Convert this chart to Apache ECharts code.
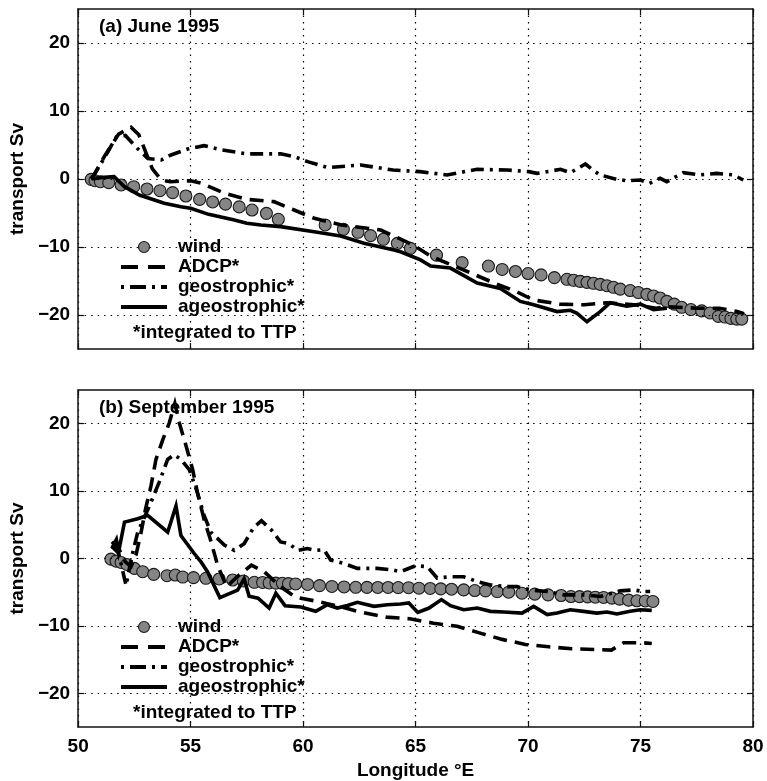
<!DOCTYPE html>
<html>
<head>
<meta charset="utf-8">
<script src="https://cdn.jsdelivr.net/npm/echarts@6/dist/echarts.min.js"></script>
<style>
  html, body { margin: 0; padding: 0; background: #fff; }
  #chart { width: 767px; height: 781px; }
</style>
</head>
<body>
<div id="chart"></div>
<script>
// Volume transport (Sv) along the section, by longitude (°E)

const panelTitles = ['(a) June 1995', '(b) September 1995'];
const seriesNames = ['wind', 'ADCP*', 'geostrophic*', 'ageostrophic*'];
const noteText = '*integrated to TTP';
const xTicks = [50, 55, 60, 65, 70, 75, 80];
const yTicks = [-20, -10, 0, 10, 20];

// ---- June 1995 ----
const windJune = [
  [50.58,-0.05],[50.75,-0.25],[50.99,-0.4],[51.36,-0.54],[51.91,-0.88],[52.47,-1.13],
  [53.06,-1.47],[53.64,-1.72],[54.2,-2.0],[54.79,-2.5],[55.4,-3.0],[55.98,-3.38],
  [56.55,-3.7],[57.16,-4.1],[57.73,-4.56],[58.37,-5.05],[58.9,-5.93],[60.98,-6.76],
  [61.79,-7.4],[62.44,-7.84],[63.0,-8.33],[63.57,-8.87],[64.19,-9.46],[64.77,-10.2],
  [65.93,-11.2],[67.07,-12.3],[68.24,-12.8],[68.85,-13.3],[69.44,-13.6],[70.0,-13.9],
  [70.58,-14.1],[71.17,-14.5],[71.73,-14.75],[72.03,-14.9],[72.32,-15.05],[72.62,-15.2],
  [72.91,-15.34],[73.21,-15.5],[73.51,-15.69],[73.8,-15.93],[74.1,-16.2],[74.54,-16.4],
  [74.91,-16.7],[75.28,-16.96],[75.58,-17.2],[75.87,-17.5],[76.17,-18.0],[76.5,-18.4],
  [76.83,-18.87],[77.24,-19.2],[77.72,-19.4],[78.09,-19.7],[78.46,-20.2],[78.76,-20.3],
  [79.02,-20.5],[79.28,-20.6],[79.5,-20.6]
];
const adcpJune = [
  [50.6,0],[51.2,3.5],[51.8,6.6],[52.35,7.6],[52.7,6.5],[53.0,4.0],[53.3,1.5],[53.7,-0.15],
  [54.1,-0.4],[54.6,-0.3],[55.0,-0.25],[55.5,-0.64],[56.5,-2.1],[57.5,-3.0],[58.7,-3.33],
  [59.6,-4.56],[60.5,-5.78],[61.7,-6.76],[63.45,-7.5],[64.9,-9.7],[65.7,-11.4],[67.3,-13.6],
  [68.5,-15.3],[69.5,-16.6],[70.25,-17.8],[71.4,-18.4],[72.5,-18.5],[73.5,-18.2],[74.7,-18.5],
  [75.7,-19.0],[76.2,-18.8],[77.5,-19.0],[78.5,-19.0],[79.3,-19.5],[79.6,-19.8]
];
const geoJune = [
  [50.6,0],[51.2,3.3],[51.7,6.2],[52.1,6.4],[52.6,4.6],[53.1,3.0],[53.7,2.8],[54.1,3.5],
  [54.87,4.4],[55.6,4.9],[56.35,4.3],[57.5,3.7],[59.0,3.7],[59.6,3.3],[60.2,2.55],[61.1,1.67],
  [62.56,2.06],[64.0,1.32],[65.2,1.08],[66.4,0.6],[67.74,1.42],[69.07,1.32],[70.03,1.08],
  [70.4,0.83],[71.44,1.42],[71.88,0.93],[72.55,2.2],[72.84,1.42],[73.2,0.6],[73.95,-0.05],
  [74.39,-0.25],[74.99,-0.15],[75.4,-0.64],[75.87,0.1],[76.17,-0.39],[76.9,0.93],[77.65,0.6],
  [78.39,0.83],[79.13,0.6],[79.57,-0.15]
];
const ageoJune = [
  [50.6,0],[51.0,0.2],[51.6,0.34],[52.06,-1.13],[52.72,-2.35],[53.83,-3.57],[54.57,-4.07],
  [55.0,-4.3],[55.8,-5.2],[56.9,-6.0],[57.5,-6.5],[58.12,-6.76],[59.0,-7.0],[60.49,-7.75],
  [61.67,-8.38],[62.71,-9.46],[64.04,-10.44],[64.33,-10.7],[65.22,-11.9],[65.67,-12.8],
  [66.55,-13.1],[67.74,-15.3],[68.77,-16.1],[69.66,-18.0],[70.25,-18.5],[71.29,-19.5],
  [71.88,-19.3],[72.18,-19.75],[72.62,-21.0],[73.21,-19.5],[73.65,-18.2],[74.39,-18.7],
  [74.99,-18.4],[75.58,-19.2],[76.17,-19.0]
];

// ---- September 1995 ----
const windSept = [
  [51.46,-0.1],[51.69,-0.39],[51.91,-0.59],[52.17,-0.88],[52.5,-1.47],[52.87,-1.96],
  [53.36,-2.35],[53.95,-2.55],[54.32,-2.45],[54.65,-2.75],[55.13,-2.84],[55.68,-2.94],
  [56.27,-3.04],[56.87,-3.19],[57.35,-3.33],[57.83,-3.53],[58.2,-3.55],[58.49,-3.63],
  [58.79,-3.65],[59.08,-3.68],[59.35,-3.73],[59.67,-3.78],[60.2,-3.85],[60.73,-4.02],
  [61.28,-4.15],[61.82,-4.22],[62.34,-4.27],[62.84,-4.28],[63.32,-4.3],[63.78,-4.3],
  [64.23,-4.31],[64.69,-4.33],[65.15,-4.41],[65.65,-4.45],[66.12,-4.5],[66.6,-4.56],
  [67.14,-4.66],[67.63,-4.75],[68.11,-4.8],[68.63,-4.9],[69.14,-5.0],[69.73,-5.15],
  [70.3,-5.29],[70.89,-5.39],[71.47,-5.49],[71.91,-5.64],[72.29,-5.66],[72.65,-5.69],
  [72.99,-5.74],[73.36,-5.78],[73.73,-5.88],[74.07,-6.03],[74.47,-6.18],[74.84,-6.27],
  [75.21,-6.3],[75.55,-6.37]
];
const adcpSept = [
  [51.5,2.5],[51.8,1.5],[52.1,-0.5],[52.35,-1.2],[52.57,0.5],[52.8,3.9],[53.0,7.4],
  [53.24,10.8],[53.46,14.7],[53.76,17.6],[54.05,20.1],[54.3,23.0],[54.5,20.1],[54.8,16.7],
  [55.09,13.2],[55.3,9.8],[55.6,5.8],[55.9,2.6],[56.2,-1.0],[56.6,-4.2],[57.1,-2.6],
  [57.7,-1.0],[58.27,-1.96],[59.0,-4.2],[59.67,-5.74],[60.49,-6.27],[61.6,-7.1],[62.5,-7.9],
  [63.7,-8.7],[64.75,-8.95],[65.8,-9.6],[66.85,-10.05],[67.8,-11.0],[68.85,-12.0],
  [69.88,-12.75],[70.92,-13.1],[71.95,-13.4],[72.99,-13.5],[73.7,-13.6],[74.25,-12.5],
  [75.06,-12.5],[75.5,-12.6]
];
const geoSept = [
  [51.5,1.8],[51.8,0.8],[52.13,-4.0],[52.4,0.5],[52.65,3.9],[53.17,7.8],[53.6,11.3],
  [53.98,14.7],[54.27,15.4],[54.57,14.7],[54.94,13.2],[55.3,9.8],[55.6,6.4],[55.9,3.9],
  [56.5,2.0],[56.94,1.2],[57.38,2.2],[57.8,4.6],[58.15,5.6],[58.6,4.2],[59.0,2.45],
  [59.38,2.2],[59.75,1.2],[60.19,1.47],[60.56,1.2],[60.93,1.3],[61.23,-0.25],[61.82,-0.74],
  [62.41,-1.47],[63.3,-1.47],[63.97,-1.7],[64.33,-1.96],[65.0,-1.08],[65.52,-1.2],
  [65.96,-2.9],[66.55,-2.7],[67.14,-2.7],[67.74,-3.43],[68.33,-3.92],[69.07,-4.17],
  [69.51,-4.17],[70.1,-4.66],[70.85,-4.9],[71.58,-5.39],[72.47,-5.39],[73.21,-5.64],
  [74.1,-4.8],[74.69,-4.66],[75.13,-4.9],[75.43,-4.9]
];
const ageoSept = [
  [51.5,1.5],[51.7,2.8],[51.8,1.0],[52.06,5.4],[52.65,5.9],[53.09,6.4],[53.98,3.9],
  [54.35,7.8],[54.57,3.4],[55.16,0.74],[55.46,-0.5],[55.75,-1.96],[56.3,-5.8],[57.09,-4.7],
  [57.38,-3.0],[57.6,-5.6],[58.0,-5.9],[58.49,-7.35],[58.79,-5.15],[59.2,-7.0],[59.9,-7.2],
  [60.56,-7.84],[61.08,-6.86],[61.52,-7.35],[61.97,-6.96],[62.41,-6.5],[63.15,-7.1],
  [63.75,-6.86],[64.33,-6.76],[64.7,-6.6],[65.1,-8.0],[65.6,-7.35],[66.15,-6.1],[66.55,-7.0],
  [67.14,-7.6],[67.74,-7.35],[68.33,-7.84],[68.92,-7.94],[69.73,-8.1],[70.25,-7.1],
  [70.85,-8.33],[71.29,-8.1],[71.88,-7.6],[72.47,-7.84],[73.06,-8.1],[73.51,-7.94],
  [73.95,-8.23],[74.54,-7.84],[74.99,-7.6],[75.5,-7.7]
];

const FONT = "'Liberation Sans', Arial, Helvetica, sans-serif";
const INK = '#111';
const dotted = { type: [1.5, 5], color: '#000', width: 1.2 };
const windStyle = { color: '#858585', borderColor: '#1a1a1a', borderWidth: 1.1, opacity: 1 };
const lineWidth = 3.6;
const dashADCP = [14, 8];
const dashGeo = [13, 6, 3, 6];

const grids = [
  { left: 77, top: 9, width: 676, height: 340 },
  { left: 77, top: 390, width: 676, height: 340 }
];

function fmtNum(v) {
  return v < 0 ? '\u2212' + Math.abs(v) : String(v);
}

const boxLine = { show: true, onZero: false, lineStyle: { color: INK, width: 1.5 } };
const tickIn = { show: true, inside: true, length: 6, lineStyle: { color: INK, width: 1.2 } };
const labelFont = { color: '#000', fontFamily: FONT, fontWeight: 'bold', fontSize: 19 };

const xAxes = [];
const yAxes = [];
[0, 1].forEach(function (g) {
  const last = g === 1;
  xAxes.push({
    type: 'value', gridIndex: g, position: 'bottom', min: 50, max: 80, interval: 5,
    axisLine: boxLine, axisTick: tickIn,
    axisLabel: Object.assign({ show: last, margin: 10 }, labelFont),
    splitLine: { show: true, lineStyle: dotted },
    name: last ? 'Longitude \u00B0E' : '', nameLocation: 'middle', nameGap: 34,
    nameTextStyle: labelFont
  });
  xAxes.push({
    type: 'value', gridIndex: g, position: 'top', min: 50, max: 80, interval: 5,
    axisLine: boxLine, axisTick: tickIn,
    axisLabel: { show: false }, splitLine: { show: false }
  });
  yAxes.push({
    type: 'value', gridIndex: g, position: 'left', min: -25, max: 25,
    axisLine: boxLine,
    axisTick: Object.assign({ customValues: yTicks }, tickIn),
    axisLabel: Object.assign({ show: true, customValues: yTicks, margin: 8, formatter: fmtNum }, labelFont),
    splitLine: { show: false },
    name: 'transport Sv', nameLocation: 'middle', nameGap: 38,
    nameTextStyle: labelFont
  });
  yAxes.push({
    type: 'value', gridIndex: g, position: 'right', min: -25, max: 25,
    axisLine: boxLine,
    axisTick: Object.assign({ customValues: yTicks }, tickIn),
    axisLabel: { show: false }, splitLine: { show: false }
  });
});

const panels = [
  { wind: windJune, adcp: adcpJune, geo: geoJune, ageo: ageoJune },
  { wind: windSept, adcp: adcpSept, geo: geoSept, ageo: ageoSept }
];

const series = [];
panels.forEach(function (p, g) {
  const xi = g * 2, yi = g * 2;
  // horizontal dotted grid lines at the labelled ticks
  series.push({
    type: 'line', name: 'grid' + g, xAxisIndex: xi, yAxisIndex: yi, data: [],
    silent: true, z: 1,
    markLine: {
      silent: true, symbol: ['none', 'none'], label: { show: false },
      lineStyle: dotted, animation: false,
      data: yTicks.map(function (v) { return { yAxis: v }; })
    }
  });
  series.push({
    type: 'scatter', name: seriesNames[0], xAxisIndex: xi, yAxisIndex: yi, data: p.wind,
    symbol: 'circle', symbolSize: 12, z: 2, itemStyle: windStyle
  });
  const lines = [
    { name: seriesNames[1], data: p.adcp, dash: dashADCP },
    { name: seriesNames[2], data: p.geo, dash: dashGeo },
    { name: seriesNames[3], data: p.ageo, dash: 'solid' }
  ];
  lines.forEach(function (l) {
    series.push({
      type: 'line', name: l.name, xAxisIndex: xi, yAxisIndex: yi, data: l.data,
      symbol: 'none', z: 3, itemStyle: { color: '#000' },
      lineStyle: { color: '#000', width: lineWidth, type: l.dash, cap: 'butt', join: 'miter' }
    });
  });
});

// legend keys and the footnote, drawn inside each panel
const keyDash = [null, [17, 10], [3, 6, 16, 6], null];
const graphics = [];
[247, 627].forEach(function (yc0) {
  seriesNames.forEach(function (name, i) {
    const yc = yc0 + i * 20;
    if (i === 0) {
      graphics.push({
        type: 'circle', silent: true, z: 10,
        shape: { cx: 144, cy: yc, r: 5.5 },
        style: { fill: windStyle.color, stroke: windStyle.borderColor, lineWidth: 1.1 }
      });
    } else {
      graphics.push({
        type: 'line', silent: true, z: 10,
        shape: { x1: 121, y1: yc, x2: 167, y2: yc },
        style: { stroke: '#000', lineWidth: 3.8, lineDash: keyDash[i], lineCap: 'butt' }
      });
    }
    graphics.push({
      type: 'text', silent: true, z: 10, x: 178, y: yc,
      style: { text: name, fill: '#000', font: 'bold 19px ' + FONT, textVerticalAlign: 'middle' }
    });
  });
  graphics.push({
    type: 'text', silent: true, z: 10, x: 133, y: yc0 + 86,
    style: { text: noteText, fill: '#000', font: 'bold 19px ' + FONT, textVerticalAlign: 'middle' }
  });
});

const option = {
  animation: false,
  backgroundColor: '#fff',
  grid: grids,
  xAxis: xAxes,
  yAxis: yAxes,
  title: panelTitles.map(function (t, i) {
    return {
      text: t, left: 99, top: i === 0 ? 17 : 398, padding: 0,
      textStyle: labelFont
    };
  }),
  graphic: graphics,
  series: series
};

const chart = echarts.init(document.getElementById('chart'), null, { renderer: 'canvas' });
chart.setOption(option);
</script>
</body>
</html>
